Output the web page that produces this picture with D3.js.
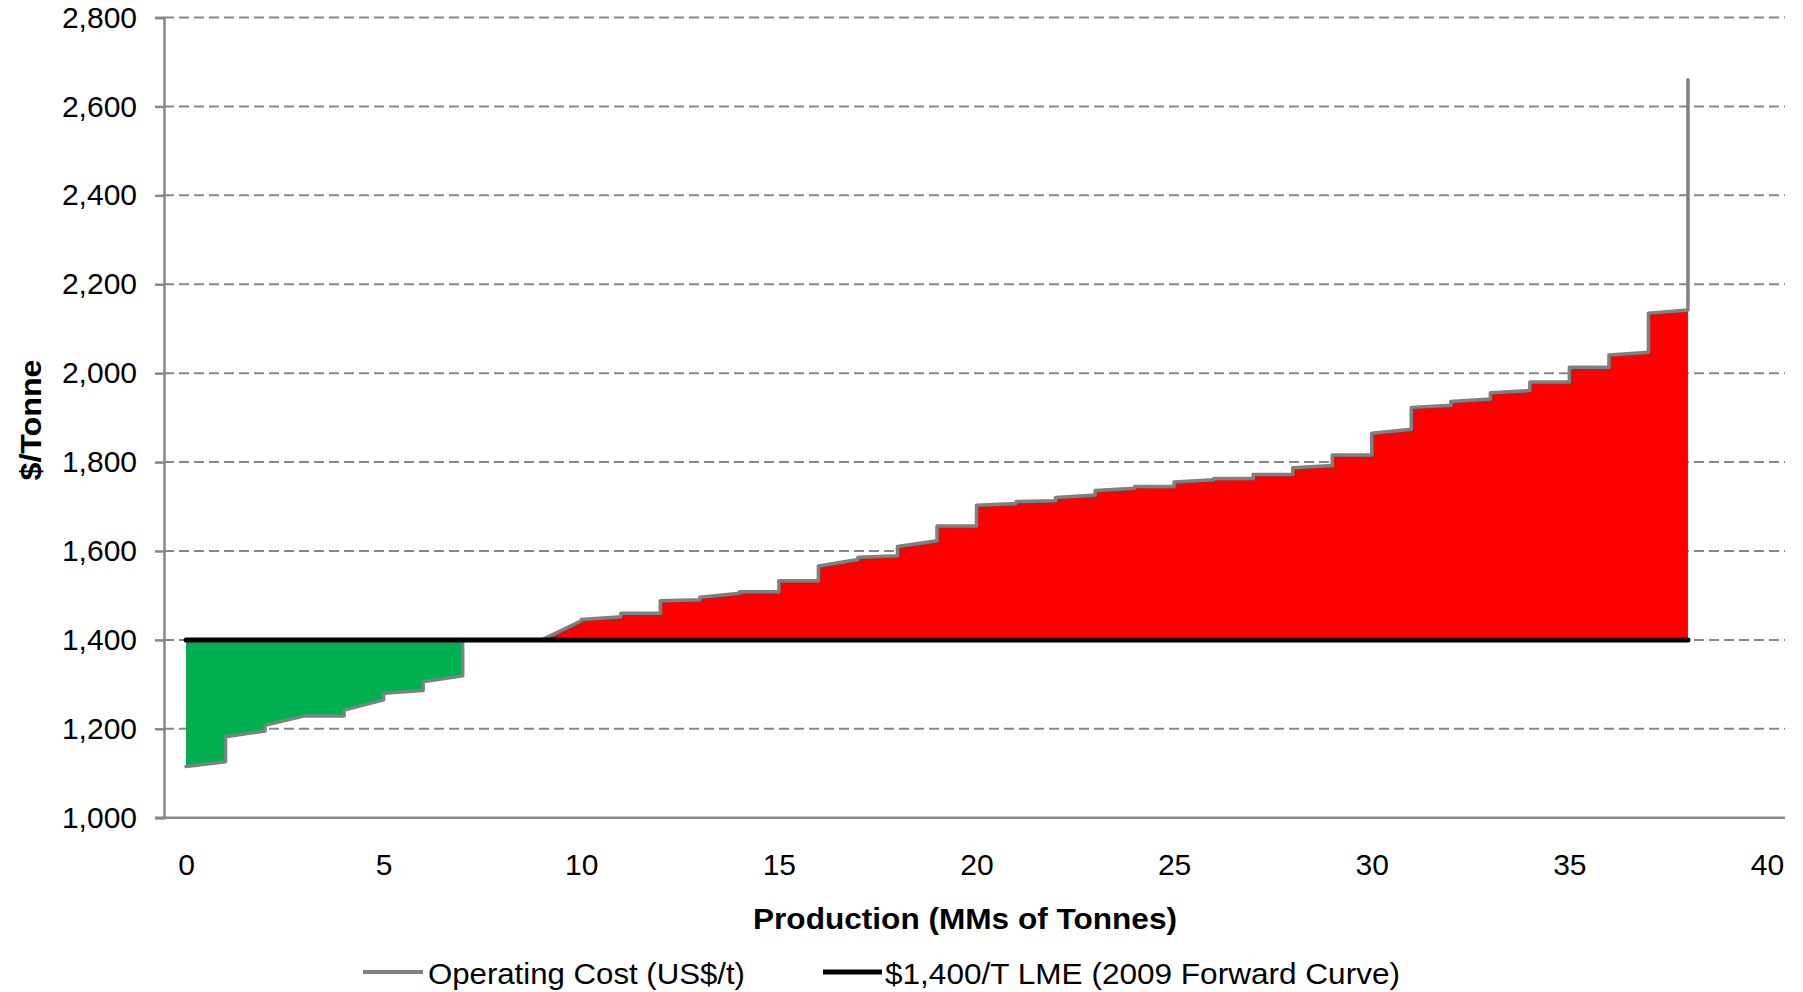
<!DOCTYPE html>
<html>
<head>
<meta charset="utf-8">
<script src="https://cdn.jsdelivr.net/npm/d3@7"></script>
<style>
  body { margin: 0; background: #fff; }
  text { font-family: "Liberation Sans", Arial, sans-serif; fill: #000; }
</style>
</head>
<body>
<svg id="chart" width="1803" height="992"></svg>
<script>
// Operating cost per producer block (each block = 1 MM tonnes), cost at block start and end (US$/t)
const segStart = [1115, 1182, 1208, 1229, 1242, 1280, 1306, 1400, 1400, 1400,
                  1446, 1460, 1488, 1496, 1508, 1533, 1566, 1586, 1610, 1656,
                  1703, 1711, 1720, 1736, 1745, 1755, 1763, 1772, 1787, 1816,
                  1865, 1923, 1936, 1956, 1980, 2013, 2041, 2135];
const segEnd   = [1126, 1195, 1229, 1229, 1265, 1286, 1319, 1400, 1400, 1443,
                  1452, 1460, 1490, 1505, 1508, 1533, 1581, 1589, 1623, 1656,
                  1707, 1713, 1726, 1741, 1745, 1760, 1763, 1772, 1792, 1816,
                  1874, 1928, 1942, 1961, 1980, 2013, 2047, 2142];
const peakCost = 2660;          // highest-cost tail at the end of the curve
const lmePrice = 1400;          // LME forward price
const xTickValues = [0, 5, 10, 15, 20, 25, 30, 35, 40];
const yTickValues = [1000, 1200, 1400, 1600, 1800, 2000, 2200, 2400, 2600, 2800];
const seriesNames = ["Operating Cost (US$/t)", "$1,400/T LME (2009 Forward Curve)"];
const xTitle = "Production (MMs of Tonnes)";
const yTitle = "$/Tonne";

const svg = d3.select("#chart");
const axisGrey = "#878787";
const axisX0 = 164, plotRight = 1785;

const x = d3.scaleLinear().domain([0, 40]).range([186, 1767]);
const y = d3.scaleLinear().domain([1000, 2800]).range([817.7, 17.5]);

// Build the stepped cost curve: a sloped run across each block, vertical jump between blocks
const steps = [];
segStart.forEach((s, i) => {
  steps.push({ p: i, c: s });
  steps.push({ p: i + 1, c: segEnd[i] });
});
const costPts = steps.concat([{ p: segStart.length, c: peakCost }]);

// Gridlines
svg.append("g").selectAll("line")
  .data(yTickValues.filter(v => v > 1000))
  .join("line")
  .attr("x1", axisX0).attr("x2", plotRight)
  .attr("y1", d => y(d)).attr("y2", d => y(d))
  .attr("stroke", axisGrey).attr("stroke-width", 2)
  .attr("stroke-dasharray", "10,5");

// Clip regions above / below the LME price
const defs = svg.append("defs");
defs.append("clipPath").attr("id", "above")
  .append("rect").attr("x", 0).attr("y", 0).attr("width", 1803).attr("height", y(lmePrice));
defs.append("clipPath").attr("id", "below")
  .append("rect").attr("x", 0).attr("y", y(lmePrice)).attr("width", 1803).attr("height", 992 - y(lmePrice));

const area = d3.area()
  .x(d => x(d.p))
  .y0(y(lmePrice))
  .y1(d => y(d.c));

svg.append("path").datum(steps)
  .attr("d", area).attr("fill", "#00B050").attr("clip-path", "url(#below)");
svg.append("path").datum(steps)
  .attr("d", area).attr("fill", "#FF0000").attr("clip-path", "url(#above)");

// Operating cost line
const line = d3.line().x(d => x(d.p)).y(d => y(d.c));
svg.append("path").datum(costPts)
  .attr("d", line)
  .attr("fill", "none").attr("stroke", "#808080").attr("stroke-width", 3.5)
  .attr("stroke-linejoin", "round").attr("stroke-linecap", "round");

// LME price line
svg.append("path").datum([{ p: 0, c: lmePrice }, { p: segStart.length, c: lmePrice }])
  .attr("d", line)
  .attr("fill", "none").attr("stroke", "#000").attr("stroke-width", 5)
  .attr("stroke-linecap", "round");

// Y axis
const yAxis = svg.append("g")
  .attr("transform", `translate(${axisX0},0)`)
  .call(d3.axisLeft(y).tickValues(yTickValues).tickSize(9).tickPadding(18).tickFormat(d3.format(",")));
yAxis.select(".domain").attr("stroke", axisGrey).attr("stroke-width", 2.5);
yAxis.selectAll(".tick line").attr("stroke", axisGrey).attr("stroke-width", 2.5);
yAxis.selectAll(".tick text").attr("font-size", 30).attr("fill", "#000")
  .style("font-family", '"Liberation Sans", Arial, sans-serif');

// X axis
svg.append("line")
  .attr("x1", 155).attr("x2", plotRight)
  .attr("y1", y(1000)).attr("y2", y(1000))
  .attr("stroke", axisGrey).attr("stroke-width", 2.5);
const xAxis = svg.append("g")
  .attr("transform", `translate(0,${y(1000)})`)
  .call(d3.axisBottom(x).tickValues(xTickValues).tickSize(0).tickPadding(36));
xAxis.select(".domain").remove();
xAxis.selectAll(".tick text").attr("font-size", 30).attr("fill", "#000")
  .style("font-family", '"Liberation Sans", Arial, sans-serif');

// Axis titles
svg.append("text")
  .attr("x", 965).attr("y", 929)
  .attr("text-anchor", "middle")
  .attr("font-size", 30).attr("font-weight", "bold")
  .attr("textLength", 424).attr("lengthAdjust", "spacingAndGlyphs")
  .text(xTitle);
svg.append("text")
  .attr("transform", "translate(41,420) rotate(-90)")
  .attr("text-anchor", "middle")
  .attr("font-size", 30).attr("font-weight", "bold")
  .attr("textLength", 121).attr("lengthAdjust", "spacingAndGlyphs")
  .text(yTitle);

// Legend
const legend = [
  { name: seriesNames[0], color: "#808080", width: 4, x0: 363, x1: 423, tx: 428, tl: 317 },
  { name: seriesNames[1], color: "#000", width: 5, x0: 823, x1: 882, tx: 885, tl: 515 }
];
const lg = svg.append("g").selectAll("g").data(legend).join("g");
lg.append("line")
  .attr("x1", d => d.x0).attr("x2", d => d.x1)
  .attr("y1", 972).attr("y2", 972)
  .attr("stroke", d => d.color).attr("stroke-width", d => d.width);
lg.append("text")
  .attr("x", d => d.tx).attr("y", 984)
  .attr("font-size", 30)
  .attr("textLength", d => d.tl).attr("lengthAdjust", "spacingAndGlyphs")
  .text(d => d.name);
</script>
</body>
</html>
